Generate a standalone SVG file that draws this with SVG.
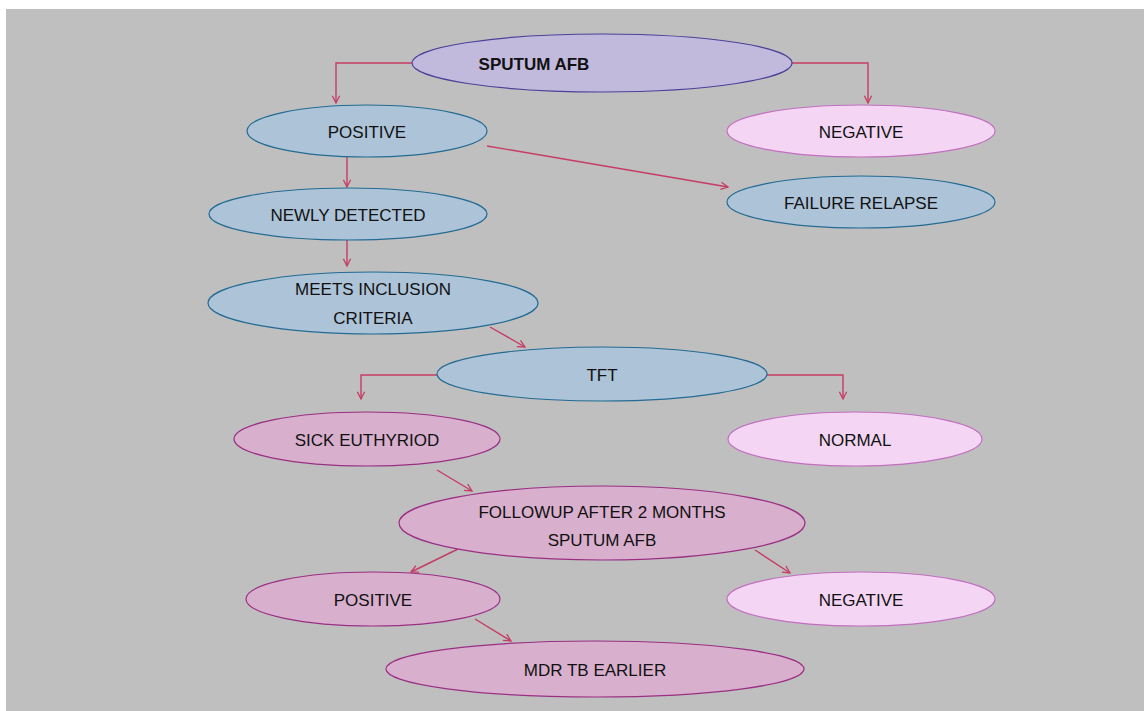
<svg xmlns="http://www.w3.org/2000/svg" width="1144" height="711" viewBox="0 0 1144 711">
<defs>
<marker id="ah" viewBox="0 0 10 10" refX="9" refY="5" markerWidth="9" markerHeight="9" markerUnits="userSpaceOnUse" orient="auto">
<path d="M1,1 L9,5 L1,9" fill="none" stroke="#c63c64" stroke-width="1.4"/>
</marker>
<style>
.bg{fill:#bfbfbf}
.pur{fill:#c1badd;stroke:#4b4199;stroke-width:1.2}
.blu{fill:#adc3d8;stroke:#236b93;stroke-width:1.2}
.lpk{fill:#f4d6f4;stroke:#c26fc0;stroke-width:1.2}
.mau{fill:#d8afcd;stroke:#9b2f84;stroke-width:1.2}
text{font-family:"Liberation Sans",Arial,sans-serif;font-size:17px;fill:#111;text-anchor:middle}
.b{font-weight:bold}
.c{fill:none;stroke:#c63c64;stroke-width:1.4;marker-end:url(#ah)}
</style>
</defs>
<rect x="0" y="0" width="1144" height="711" fill="#ffffff"/>
<rect class="bg" x="6" y="9" width="1138" height="702"/>
<g id="connectors">
<polyline class="c" points="412,63 336,63 336,103"/>
<polyline class="c" points="792,63 868,63 868,103"/>
<line class="c" x1="347" y1="157" x2="347" y2="187"/>
<line class="c" x1="487" y1="146" x2="728" y2="187"/>
<line class="c" x1="347" y1="240" x2="347" y2="266"/>
<line class="c" x1="490" y1="327" x2="525" y2="347"/>
<polyline class="c" points="437,375 361,375 361,399"/>
<polyline class="c" points="767,375 843,375 843,399"/>
<line class="c" x1="437" y1="470" x2="472" y2="491"/>
<line class="c" x1="458" y1="549" x2="411" y2="572"/>
<line class="c" x1="755" y1="550" x2="790" y2="573"/>
<line class="c" x1="475" y1="619" x2="511" y2="641"/>
</g>
<g id="sputum-afb"><ellipse class="pur" cx="602" cy="63" rx="190" ry="29"/><text class="b" x="534" y="70">SPUTUM AFB</text></g>
<g id="positive-top"><ellipse class="blu" cx="367" cy="131" rx="120" ry="26"/><text x="367" y="138">POSITIVE</text></g>
<g id="negative-top"><ellipse class="lpk" cx="861" cy="131" rx="134" ry="26"/><text x="861" y="138">NEGATIVE</text></g>
<g id="failure-relapse"><ellipse class="blu" cx="861" cy="202" rx="134" ry="26"/><text x="861" y="209">FAILURE RELAPSE</text></g>
<g id="newly-detected"><ellipse class="blu" cx="348" cy="214" rx="139" ry="26"/><text x="348" y="221">NEWLY DETECTED</text></g>
<g id="meets-inclusion"><ellipse class="blu" cx="373" cy="303" rx="165" ry="31"/><text x="373" y="295">MEETS INCLUSION</text><text x="373" y="324">CRITERIA</text></g>
<g id="tft"><ellipse class="blu" cx="602" cy="374" rx="165" ry="27"/><text x="602" y="381">TFT</text></g>
<g id="sick-euthyriod"><ellipse class="mau" cx="367" cy="439" rx="133" ry="27"/><text x="367" y="446">SICK EUTHYRIOD</text></g>
<g id="normal"><ellipse class="lpk" cx="855" cy="439" rx="127" ry="27"/><text x="855" y="446">NORMAL</text></g>
<g id="followup"><ellipse class="mau" cx="602" cy="523" rx="203" ry="37"/><text x="602" y="518">FOLLOWUP AFTER 2 MONTHS</text><text x="602" y="546">SPUTUM AFB</text></g>
<g id="positive-bottom"><ellipse class="mau" cx="373" cy="599" rx="127" ry="27"/><text x="373" y="606">POSITIVE</text></g>
<g id="negative-bottom"><ellipse class="lpk" cx="861" cy="599" rx="134" ry="27"/><text x="861" y="606">NEGATIVE</text></g>
<g id="mdr-tb"><ellipse class="mau" cx="595" cy="669" rx="209" ry="28"/><text x="595" y="676">MDR TB EARLIER</text></g>
</svg>
